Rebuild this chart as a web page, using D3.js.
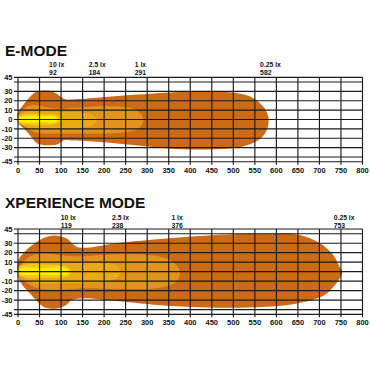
<!DOCTYPE html>
<html><head><meta charset="utf-8">
<script src="https://cdn.jsdelivr.net/npm/d3@7"></script>
<style>
html,body{margin:0;padding:0;background:#fff;}
svg{display:block;}
text{font-family:"Liberation Sans",Arial,sans-serif;fill:#111;}
</style></head>
<body>
<svg id="chart" width="370" height="370"></svg>
<script>
// ---- data ----
const xTicks = [0,50,100,150,200,250,300,350,400,450,500,550,600,650,700,750,800];
const yTickLabels = [45,30,20,10,0,-10,-20,-30,-45];
const yGridLines = [45,40,30,20,10,0,-10,-20,-30,-40,-45];
const luxLabels = ["10 lx","2.5 lx","1 lx","0.25 lx"];
const eModeDistances = [92,184,291,582];
const xpModeDistances = [119,238,376,753];
const levelColors = ["#CD6A14","#E2931E","#E9AA14","#F3C81A","#FFEE00"];

// E-MODE isolux contours [distance, lateral]
const eMode025 = [[0,7],[8,13],[20,20],[32,26],[45,30],[60,31],[75,30.5],[88,28],[98,24.5],[110,21.5],[130,21.5],[190,23.5],[306,27.5],[400,29.5],[470,29.5],[510,28],[546,23],[569,14],[580,5],[582,0],[580,-8],[572,-16],[555,-23],[520,-29],[470,-31.5],[400,-32],[330,-30],[260,-27],[190,-24],[130,-22.5],[108,-22],[100,-24],[92,-26.5],[75,-27.5],[55,-27],[43,-25],[30,-18],[15,-10],[5,-6],[0,-4]];
const eMode1 = [[0,4],[10,10],[22,14],[35,15.5],[50,15],[65,13],[80,12],[100,11.5],[150,13],[200,14],[240,13.5],[270,11],[285,6],[291,0],[287,-6],[275,-11],[240,-14],[180,-15],[120,-15],[80,-15],[60,-15],[45,-14],[30,-12],[15,-7],[0,-3]];
const eMode25 = [[0,3],[10,7],[25,9],[45,9],[70,8.5],[110,8],[150,7.5],[172,5],[184,0],[175,-5.5],[150,-8.5],[110,-9],[70,-9],[45,-9.5],[25,-9],[10,-6],[0,-3]];
const eMode5 = [[0,2],[10,5],[30,6],[60,5.5],[85,5],[96,3],[100,0],[96,-3],[85,-5],[60,-5.5],[30,-6],[10,-5],[0,-2]];
const eMode10 = [[0,1.5],[10,3.5],[30,4],[60,3.5],[80,3.5],[89,2],[92,0],[89,-2],[80,-3.5],[60,-3],[30,-3.5],[10,-3],[0,-1.5]];

// XPERIENCE MODE isolux contours
const xpMode025 = [[0,10.5],[20,23],[51,33.4],[70,37],[90,38],[113,35],[136,26.4],[159,25.3],[229,30],[345,35],[461,38.7],[577,40],[654,38.7],[701,30],[732,17.6],[747,5],[753,0],[748,-6],[740,-12],[712,-24.6],[654,-33],[577,-37],[461,-38],[345,-36],[229,-31],[152,-28],[125,-30],[113,-35],[90,-39],[70,-38.5],[59,-37],[28,-23],[5,-10.5]];
const xpMode1 = [[0,5],[5,7],[28,16],[59,19.4],[97,17.6],[136,16],[190,17.6],[268,18.3],[330,15.8],[360,10.5],[376,0],[368,-10.5],[330,-17],[229,-18],[152,-17.5],[97,-19],[51,-18],[20,-12],[0,-5]];
const xpMode25 = [[0,3],[20,10],[74,11.3],[152,10.5],[213,8.8],[233,4.6],[238,0],[233,-5],[206,-10.5],[113,-12],[36,-12],[12,-7],[0,-3]];
const xpMode5 = [[0,3],[10,6.5],[30,8],[60,7.5],[90,7],[115,5],[125,0],[115,-5],[90,-6.5],[60,-6.5],[30,-7],[10,-5.5],[0,-3]];
const xpMode10 = [[0,1.5],[10,4],[30,4.5],[55,3.5],[80,4.5],[105,4],[116,2],[119,0],[116,-2.5],[100,-3.5],[80,-3.5],[55,-3],[30,-3.5],[10,-3],[0,-1.5]];

// ---- drawing ----
const svg = d3.select("#chart");

function drawChart(cfg){
  const x = d3.scaleLinear().domain([0,800]).range([18,362.5]);
  const y = d3.scaleLinear().domain([-45,45]).range([cfg.bottom, cfg.top]);
  const g = svg.append("g");

  g.append("text").attr("x",5).attr("y",cfg.titleY)
    .style("font-size","15.5px").style("font-weight","bold").text(cfg.title);

  const line = d3.line().x(d=>x(d[0])).y(d=>y(d[1])).curve(d3.curveCatmullRomClosed.alpha(0.5));
  cfg.contours.forEach((c,i)=>{
    g.append("path").attr("d", line(c)).attr("fill", levelColors[i]);
  });

  // grid
  g.selectAll(".hg").data(yGridLines).enter().append("line")
    .attr("x1",14).attr("x2",x(800)).attr("y1",d=>y(d)).attr("y2",d=>y(d))
    .attr("stroke","#1a1a1a").attr("stroke-width",1.15);
  g.selectAll(".vg").data(xTicks).enter().append("line")
    .attr("x1",d=>x(d)).attr("x2",d=>x(d)).attr("y1",y(45)).attr("y2",y(-45)+3)
    .attr("stroke","#1a1a1a").attr("stroke-width",1.15);

  // tick labels
  g.selectAll(".yl").data(yTickLabels).enter().append("text")
    .attr("x",12.5).attr("y",d=>y(d)+2.7).attr("text-anchor","end")
    .style("font-size","7.5px").style("font-weight","bold").text(d=>d);
  g.selectAll(".xl").data(xTicks).enter().append("text")
    .attr("x",d=>x(d)).attr("y",y(-45)+11).attr("text-anchor","middle")
    .style("font-size","7.5px").style("font-weight","bold").text(d=>d);

  // lux annotations
  cfg.distances.forEach((d,i)=>{
    g.append("text").attr("x",x(d)-8.5).attr("y",cfg.annY1)
      .style("font-size","6.8px").style("font-weight","bold").text(luxLabels[i]);
    g.append("text").attr("x",x(d)-8.5).attr("y",cfg.annY2)
      .style("font-size","6.8px").style("font-weight","bold").text(d);
  });
}

drawChart({title:"E-MODE", titleY:55.5, top:77.3, bottom:161.7, annY1:67.3, annY2:74.6,
  distances:eModeDistances, contours:[eMode025,eMode1,eMode25,eMode5,eMode10]});
drawChart({title:"XPERIENCE MODE", titleY:208, top:229, bottom:314.3, annY1:220.2, annY2:227.6,
  distances:xpModeDistances, contours:[xpMode025,xpMode1,xpMode25,xpMode5,xpMode10]});
</script>
</body></html>
